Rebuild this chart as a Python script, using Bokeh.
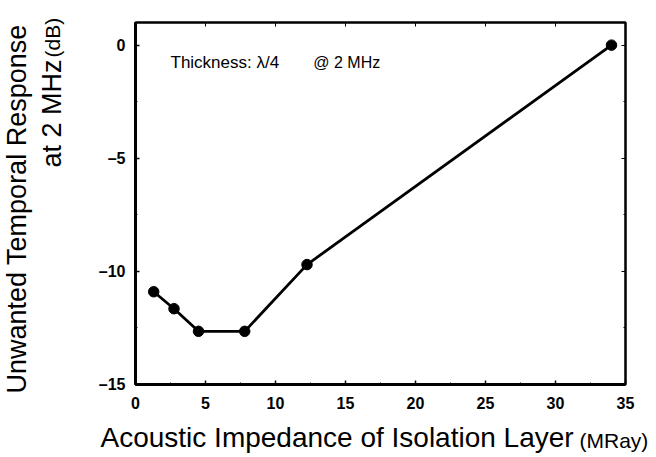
from bokeh.plotting import figure
from bokeh.models import Label, LinearAxis, Range1d, FixedTicker
from bokeh.embed import file_html
from bokeh.resources import INLINE
import math

# Data
impedance = [1.3, 2.75, 4.5, 7.8, 12.25, 34.0]
response_db = [-10.9, -11.65, -12.65, -12.65, -9.7, 0.0]

x_ticks = [0, 5, 10, 15, 20, 25, 30, 35]
y_ticks = [0, -5, -10, -15]
y_tick_labels = {0: "0", -5: "–5", -10: "–10", -15: "–15"}

FONT = "Liberation Sans"

p = figure(frame_width=490, frame_height=362,
           min_border_left=135, min_border_right=27,
           min_border_top=22, min_border_bottom=69,
           x_range=Range1d(0, 35), y_range=Range1d(-15, 1),
           output_backend="svg", toolbar_location=None)
p.background_fill_color = "white"
p.border_fill_color = "white"
p.grid.visible = False
p.outline_line_color = "black"
p.outline_line_width = 2.5

for ax in p.xaxis + p.yaxis:
    ax.axis_line_width = 3
    ax.axis_line_color = "black"
    ax.major_tick_in = 4
    ax.major_tick_out = 0
    ax.minor_tick_in = 2
    ax.minor_tick_out = 0
    ax.major_tick_line_width = 1.5
    ax.major_label_text_font = FONT
    ax.major_label_text_font_style = "bold"
    ax.major_label_text_font_size = "16px"
    ax.major_label_text_color = "black"

p.xaxis.ticker = FixedTicker(ticks=x_ticks, minor_ticks=[2.5 + 5 * i for i in range(7)])
p.yaxis.ticker = FixedTicker(ticks=y_ticks, minor_ticks=[-2.5, -7.5, -12.5])
p.yaxis.major_label_overrides = y_tick_labels
p.xaxis.major_label_standoff = 12
p.yaxis.major_label_standoff = 10

# top / right tick-only axes
top = LinearAxis(ticker=FixedTicker(ticks=x_ticks), major_tick_in=4, major_tick_out=0,
                 minor_tick_line_color=None, axis_line_color=None,
                 major_label_text_alpha=0, major_label_text_font_size="1px",
                 major_label_standoff=0)
right = LinearAxis(ticker=FixedTicker(ticks=y_ticks, minor_ticks=[-2.5, -7.5, -12.5]),
                   major_tick_in=4, major_tick_out=0, minor_tick_in=2, minor_tick_out=0,
                   axis_line_color=None, major_label_text_alpha=0,
                   major_label_text_font_size="1px", major_label_standoff=0)
p.add_layout(top, "above")
p.add_layout(right, "right")

p.line(impedance, response_db, line_color="black", line_width=2.8)
p.scatter(impedance, response_db, size=10.5, fill_color="black", line_color="black")

# annotation inside plot
p.add_layout(Label(x=2.5, y=-0.75, text="Thickness: λ/4", text_font=FONT,
                   text_font_size="17px", text_baseline="middle", text_color="black"))
p.add_layout(Label(x=12.7, y=-0.75, text="@ 2 MHz", text_font=FONT,
                   text_font_size="16px", text_baseline="middle", text_color="black"))

# x-axis title (side panel labels, screen units)
p.add_layout(Label(x=-35, y=5, x_units="screen", y_units="screen",
                   text="Acoustic Impedance of Isolation Layer", text_font=FONT,
                   text_font_size="28px", text_baseline="alphabetic", text_color="black"), "below")
p.add_layout(Label(x=444, y=25, x_units="screen", y_units="screen",
                   text="(MRay)", text_font=FONT,
                   text_font_size="21px", text_baseline="alphabetic", text_color="black"), "below")

# y-axis title
p.add_layout(Label(x=-14, y=217, x_units="screen", y_units="screen", angle=math.pi / 2,
                   text="at 2 MHz", text_font=FONT,
                   text_font_size="27px", text_baseline="alphabetic", text_color="black"), "left")
p.add_layout(Label(x=10, y=327, x_units="screen", y_units="screen", angle=math.pi / 2,
                   text="(dB)", text_font=FONT,
                   text_font_size="21px", text_baseline="alphabetic", text_color="black"), "left")
p.add_layout(Label(x=4, y=-9, x_units="screen", y_units="screen", angle=math.pi / 2,
                   text="Unwanted Temporal Response", text_font=FONT,
                   text_font_size="27px", text_baseline="alphabetic", text_color="black"), "left")

open("out.html", "w").write(file_html(p, INLINE))
